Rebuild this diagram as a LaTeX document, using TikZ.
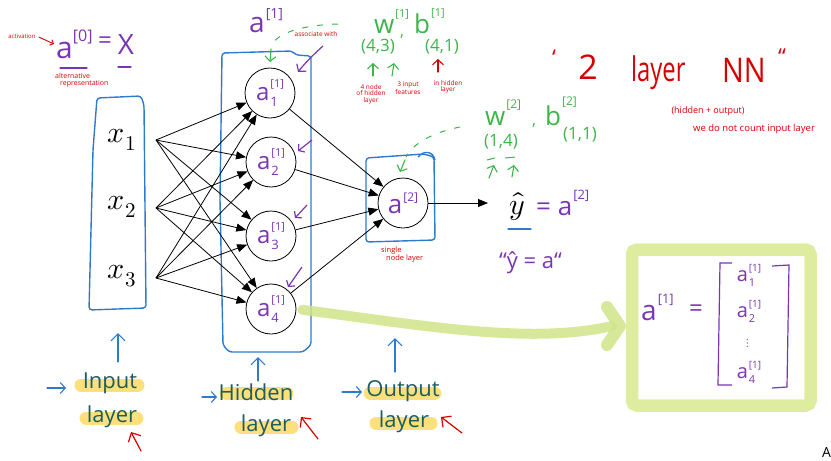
\documentclass[tikz,border=0pt]{standalone}
\usepackage{fontspec}
\usepackage{unicode-math}
\usepackage{graphicx}
\newfontfamily\hand{Open Sans}
\usetikzlibrary{arrows.meta}
\definecolor{pblue}{HTML}{2F7BCB}
\definecolor{ppurple}{HTML}{7B34B4}
\definecolor{pred}{HTML}{D60000}
\definecolor{pgreen}{HTML}{3DB54A}
\definecolor{hlyel}{HTML}{FDE07C}
\definecolor{lime}{HTML}{DEEC9F}
\definecolor{limearr}{HTML}{D0E488}
\definecolor{tealink}{HTML}{1D5E5C}
\newcommand{\fs}[1]{\fontsize{#1}{#1}\selectfont}
\newcommand{\SupSub}[5]{#1\kern1pt\rlap{\raisebox{-#5}{#3}}\raisebox{#4}{#2}}
\newcommand{\HSup}[3]{#1\kern1pt\raisebox{#3}{#2}}
\begin{document}
\begin{tikzpicture}[x=1pt,y=-1pt,
  every node/.style={inner sep=0pt},
  neuron/.style={circle,draw,line width=0.8pt,minimum size=50pt,inner sep=0pt,text=ppurple,font=\hand},
  arr/.style={-{Triangle[length=10pt,width=8pt]},line width=0.8pt},
  bbox/.style={draw=pblue,line width=1.4pt,line join=round,rounded corners=3pt},
  barb/.style={-{Straight Barb[length=5pt,width=11pt]},line width=1.1pt,line cap=round},
  bigbarb/.style={-{Straight Barb[length=7pt,width=14pt]},line width=1.2pt,line cap=round},
  marker/.style={line width=13pt,line cap=round,draw=hlyel},
  rnote/.style={text=pred,font=\hand\fs{6.5},align=center},
  ptext/.style={text=ppurple,font=\hand},
  gtext/.style={text=pgreen,font=\hand},
  ltext/.style={text=tealink,font=\hand\fs{22}},
]
\useasboundingbox (0,0) rectangle (831,461);

% highlighter marks
\draw[marker] (81,385) -- (138,385);
\draw[marker] (86,418) -- (137,418);
\draw[marker] (226,393) -- (287,393);
\draw[marker] (241,427) -- (292,427);
\draw[marker] (370,393) -- (435,393);
\draw[marker] (376,423) -- (431,423);

% lime frame
\draw[draw=lime,line width=12.5pt,rounded corners=5pt] (632,249.5) rectangle (810.5,405.5);

% blue layer boxes
\draw[bbox] (97,98) -- (141,96) -- (144,105) -- (146,308) -- (89,310) -- (93,150) -- cycle;
\draw[bbox] (222,53) -- (292,51) -- (296,55) -- (311,56) -- (311,345) -- (303,352) -- (229,352) -- (223,345) -- (220,200) -- cycle;
\draw[bbox] (366,158) -- (424,154) -- (434,157) -- (435,240) -- (366,242) -- cycle;
\draw[pblue,line width=1.4pt] (418,157) .. controls (424,150) and (433,151) .. (435,160);

% inputs
\node (x1) at (122,140) {\fs{30}$x_1$};
\node (x2) at (122,207) {\fs{30}$x_2$};
\node (x3) at (122,276) {\fs{30}$x_3$};
\coordinate (xo1) at (156,140);
\coordinate (xo2) at (156,208);
\coordinate (xo3) at (156,278);

% hidden neurons
\node[neuron] (h1) at (270,93) {\fs{24}\SupSub{a}{\fs{11}[1]}{\fs{13}1}{13pt}{6pt}};
\node[neuron] (h2) at (271,162) {\fs{24}\SupSub{a}{\fs{11}[1]}{\fs{13}2}{13pt}{6pt}};
\node[neuron] (h3) at (271,236) {\fs{24}\SupSub{a}{\fs{11}[1]}{\fs{13}3}{13pt}{6pt}};
\node[neuron] (h4) at (271,309) {\fs{24}\SupSub{a}{\fs{11}[1]}{\fs{13}4}{13pt}{6pt}};

% output neuron
\node[neuron] (o) at (403,203) {\fs{26}\HSup{a}{\fs{12}[2]}{12pt}};

\foreach \i in {1,2,3} {\foreach \j in {1,...,4} {\draw[arr] (xo\i) -- (h\j);}}
\foreach \j in {1,...,4} {\draw[arr] (h\j) -- (o);}
\coordinate (yend) at (488,203);
\draw[arr] (o) -- (yend);

% green highlight arrow
\draw[limearr,line width=10pt,line cap=round,opacity=0.85,shorten <=6pt] (h4.east) .. controls (420,325) and (530,345) .. (612,326);
\draw[limearr,line width=12pt,line cap=round,line join=round,opacity=0.85] (607,307) -- (620,326) -- (607,345);

% top-left a^[0] = X
\node[ptext,anchor=base west] (a0) at (56,58) {\fs{30}a\raisebox{17pt}{\fs{16}[0]}};
\node[ptext] (eq0) at (105,43) {\fs{24}=};
\node[ptext] (X0) at (126,45) {\fs{28}X};
\draw[ppurple,line width=1.3pt,line cap=round] (60,68) -- (87,68);
\draw[ppurple,line width=1.3pt,line cap=round] (118,67) -- (131,67);
\node[rnote,font=\hand\fs{6}] (act) at (22,36) {activation};
\draw[pred,line width=0.9pt,-{Straight Barb[length=3pt,width=6pt]}] (act.east) ++(3,1) -- (54,44);
\node[rnote,font=\hand\fs{7},align=left,anchor=north west] (alt) at (55,73) {alternative\\\hspace*{5pt}representation};

% a^[1] over hidden layer
\node[ptext,anchor=base west] (a1top) at (249,32) {\fs{28}\HSup{a}{\fs{14}[1]}{14pt}};
\draw[pgreen,line width=1pt,dash pattern=on 6pt off 9pt] (338,24) .. controls (305,25) and (276,32) .. (271,47);
\draw[pgreen,barb] (271,49) -- (270,62);
\node[rnote] (assoc) at (316,34) {associate with};
\draw[ppurple,line width=1.2pt,-{Straight Barb[length=5pt,width=12pt]}] (323,46) .. controls (313,55) and (305,63) .. (298,72);

% W1, b1
\node[gtext,anchor=base west] (w1) at (374,33) {\fs{26}\HSup{w}{\fs{11}[1]}{16pt}};
\node[gtext] (c1) at (402,37) {\fs{16},};
\node[gtext,anchor=base west] (b1) at (414,33) {\fs{26}\HSup{b}{\fs{11}[1]}{17pt}};
\node[gtext] (w1d) at (378,47) {\fs{17}(4,3)};
\node[gtext] (b1d) at (442,47) {\fs{17}(4,1)};
\draw[pgreen,barb] (373,76) -- (373,63);
\draw[pgreen,barb] (392,76) -- (394,63);
\draw[pred,barb] (438,72) -- (438,59);
\node[rnote] (n1) at (371,94) {4 node\\of hidden\\layer};
\node[rnote] (n2) at (408,88) {3 input\\features};
\node[rnote] (n3) at (448,87) {in hidden\\layer};

% W2, b2
\node[gtext,anchor=base west] (w2) at (485,125) {\fs{26}\HSup{w}{\fs{12}[2]}{17pt}};
\node[gtext] (c2) at (534,126) {\fs{16},};
\node[gtext,anchor=base west] (b2) at (545,125) {\fs{26}\HSup{b}{\fs{12}[2]}{20pt}};
\node[gtext] (w2d) at (501,142) {\fs{17}(1,4)};
\node[gtext] (b2d) at (580,135) {\fs{17}(1,1)};
\draw[pgreen,line width=1pt] (487,160) -- (495,158);
\draw[pgreen,line width=1pt] (505,158) -- (515,157);
\draw[pgreen,barb] (489,178) -- (494,165);
\draw[pgreen,barb] (512,177) -- (514,165);
\draw[pgreen,line width=1pt,dash pattern=on 6pt off 9pt] (460,127) .. controls (435,132) and (414,142) .. (406,157);
\draw[pgreen,barb] (405,160) -- (400,172);
\node[rnote,align=left,anchor=north west,font=\hand\fs{7.5}] (single) at (381,247) {single\\\hspace*{5pt}node layer};

% y hat
\node (yhat) at (517,207) {\fs{30}$\hat{y}$};
\draw[pblue,line width=1.3pt,line cap=round] (508,229) -- (531,229);
\node[ptext,anchor=base west] (ya2) at (536,215) {\fs{26}= \HSup{a}{\fs{13}[2]}{16pt}};
\node[ptext,anchor=base west] (yq) at (499,268) {\fs{22}“ŷ = a“};

% 2 layer NN
\node[text=pred,font=\hand\fs{22}] (q1) at (554,58) {‘};
\node[text=pred,font=\hand\fs{34},anchor=base] (t2) at (588,79) {2};
\node[text=pred,font=\hand\fs{34},anchor=base west] (tl) at (631,81) {\scalebox{0.7}[1]{layer}};
\node[text=pred,font=\hand\fs{34},anchor=base west] (tn) at (722,82) {\scalebox{0.85}[1]{NN}};
\node[text=pred,font=\hand\fs{22}] (q2) at (782,57) {“};
\node[rnote,font=\hand\fs{9}] (hid) at (708,111) {(hidden + output)};
\node[rnote,font=\hand\fs{9.5}] (wedo) at (754,129) {we do not count input layer};

% purple pointer arrows
\draw[ppurple,line width=1.2pt,-{Straight Barb[length=4pt,width=10pt]}] (312,140) -- (298,151);
\draw[ppurple,line width=1.2pt,-{Straight Barb[length=4pt,width=10pt]}] (307,205) -- (295,218);
\draw[ppurple,line width=1.2pt,-{Straight Barb[length=4pt,width=10pt]}] (302,267) -- (288,287);

% bottom labels
\node[ltext] (inl) at (110,383) {Input};
\node[ltext] (inl2) at (112,417) {layer};
\node[ltext] (hl) at (256,392) {Hidden};
\node[ltext] (hl2) at (266,426) {layer};
\node[ltext] (ol) at (403,391) {Output};
\node[ltext] (ol2) at (404,422) {layer};
\draw[pblue,bigbarb] (118,362) -- (118,333);
\draw[pblue,bigbarb] (258,381) -- (258,357);
\draw[pblue,bigbarb] (395,372) -- (395,338);
\draw[pblue,barb] (47,388) -- (66,388);
\draw[pblue,barb] (202,397) -- (217,397);
\draw[pblue,barb] (342,392) -- (362,392);
\draw[pred,bigbarb] (141,451) -- (131,432);
\draw[pred,bigbarb] (318,439) -- (301,417);
\draw[pred,bigbarb] (462,433) -- (441,417);

% matrix
\node[ptext,anchor=base west] (am) at (641,320) {\fs{28}\HSup{a}{\fs{13}[1]}{17pt}};
\node[ptext] (eqm) at (696,311) {\fs{24}=};
\draw[ppurple,line width=1.2pt] (732,263) -- (720,263) -- (718,385) -- (732,385);
\draw[ppurple,line width=1.2pt] (772,266) -- (789,265) -- (787,387) -- (772,388);
\node[ptext] (m1) at (749,275) {\fs{20}\SupSub{a}{\fs{10}[1]}{\fs{11}1}{10pt}{5pt}};
\node[ptext] (m2) at (749,311) {\fs{20}\SupSub{a}{\fs{10}[1]}{\fs{11}2}{10pt}{5pt}};
\node[text=ppurple] (md) at (748,343) {\fs{12}$\vdots$};
\node[ptext] (m4) at (749,372) {\fs{20}\SupSub{a}{\fs{10}[1]}{\fs{11}4}{10pt}{5pt}};

\node[font=\hand\fs{14},anchor=west] (Afrag) at (822,452) {A};
\end{tikzpicture}
\end{document}
